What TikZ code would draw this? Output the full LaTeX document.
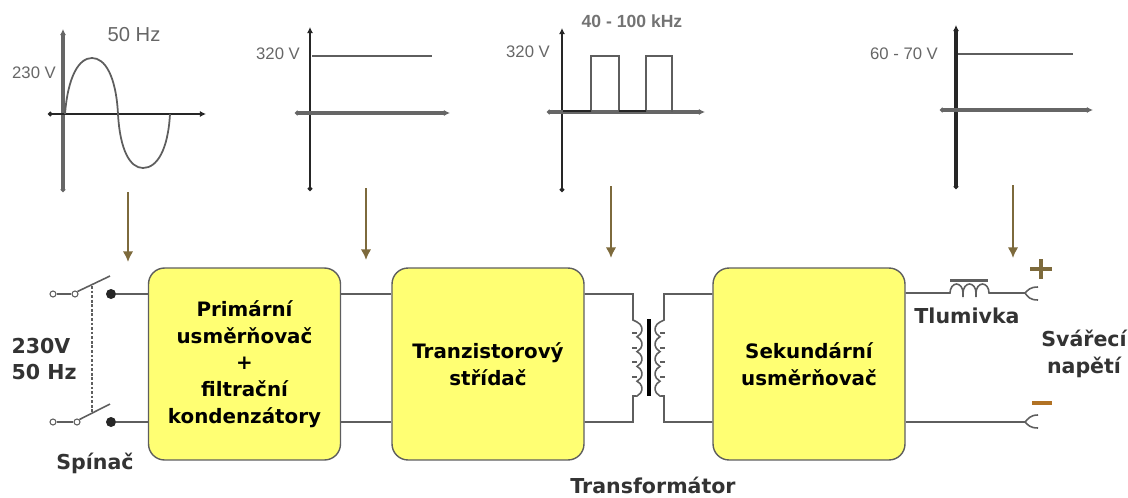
\documentclass[tikz,border=0pt]{standalone}
\usepackage{fontspec}
\setmainfont{DejaVu Sans}
\newfontfamily\plotfont{Liberation Sans}
\usetikzlibrary{arrows.meta}
\definecolor{boxyellow}{HTML}{FFFF73}
\definecolor{wiregray}{HTML}{5E5E5E}
\definecolor{arrowbrown}{HTML}{7D6A3C}
\tikzset{blok/.append style={draw=wiregray,fill=boxyellow,rounded corners=0.32cm,line width=0.8pt,minimum width=3.84cm,minimum height=3.84cm,inner sep=0pt,align=center,font=\bfseries\fontsize{11.3}{15.2}\selectfont}}
\tikzset{popis/.append style={inner sep=0pt,align=center,text=black!80,font=\bfseries\fontsize{11.7}{15}\selectfont}}
\tikzset{hodnota/.append style={inner sep=0pt,text=black!60,font=\plotfont\fontsize{9.5}{11}\selectfont}}
\tikzset{osa/.append style={line width=1.2pt,black!85,{Circle[length=2.5pt]}-{Latex[length=3.5pt,width=3.5pt]}}}
\tikzset{osatl/.append style={osa,line width=2.2pt,black!60}}
\tikzset{graf/.append style={line width=1pt,wiregray}}
\tikzset{vodic/.append style={line width=0.9pt,wiregray}}
\tikzset{sipka/.append style={line width=1.2pt,arrowbrown,-{Latex[length=6pt,width=6pt]}}}
\tikzset{kontakt/.append style={circle,draw=wiregray,fill=white,line width=0.6pt,minimum size=0.12cm,inner sep=0pt}}
\tikzset{bod/.append style={circle,fill=black!85,minimum size=0.2cm,inner sep=0pt}}
\begin{document}
\begin{tikzpicture}[x=0.02cm,y=-0.02cm]
                \useasboundingbox (0,0) rectangle (1128,497);
                % bloky
                \node[blok] (prim) at (244.5,364) {Primární\\usměrňovač\\+\\filtrační\\kondenzátory};
                \node[blok] (stri) at (488,364) {Tranzistorový\\střídač};
                \node[blok] (seku) at (809,364) {Sekundární\\usměrňovač};
                % grafy
                \coordinate (a1) at (63,192); \coordinate (a2) at (63,29);
                \coordinate (a3) at (48,114); \coordinate (a4) at (206,114);
                \draw[osatl] (a1) -- (a2);
                \draw[osa] (a3) -- (a4);
                \draw[graf] (65,114) .. controls (68,76) and (79,58) .. (92,58) .. controls (105,58) and (116,76) .. (118,114) .. controls (120,150) and (130,168) .. (143,168) .. controls (157,168) and (168,150) .. (170,114);
                \node[hodnota] (u1) at (34,73) {230 V};
                \node[hodnota,font=\plotfont\fontsize{11.5}{13}\selectfont] (f1) at (134,35) {50 Hz};
                \coordinate (b1) at (310,191); \coordinate (b2) at (310,27);
                \coordinate (b3) at (295,113); \coordinate (b4) at (450,113);
                \draw[osa] (b1) -- (b2);
                \draw[osatl] (b3) -- (b4);
                \draw[graf] (312,56) -- (432,56);
                \node[hodnota] (u2) at (278,54) {320 V};
                \coordinate (c1) at (562,192); \coordinate (c2) at (562,28);
                \coordinate (c3) at (547,112); \coordinate (c4) at (705,112);
                \draw[osa] (c1) -- (c2);
                \draw[osatl] (c3) -- (c4);
                \draw[graf] (591,112) -- (591,56) -- (619,56) -- (619,112);
                \draw[graf] (646,112) -- (646,56) -- (672,56) -- (672,112);
                \draw[line width=1.6pt,black!85] (563,111) -- (591,111) (619,111) -- (646,111);
                \node[hodnota] (u3) at (528,52) {320 V};
                \node[hodnota,text=black!55,font=\plotfont\bfseries\fontsize{10}{12}\selectfont] (f3) at (632,21) {40 - 100 kHz};
                \coordinate (d1) at (956,189); \coordinate (d2) at (956,25);
                \coordinate (d3) at (940,110); \coordinate (d4) at (1093,110);
                \draw[osatl,black!85] (d1) -- (d2);
                \draw[osatl] (d3) -- (d4);
                \draw[graf] (958,54) -- (1073,54);
                \node[hodnota] (u4) at (904,54) {60 - 70 V};
                % sipky
                \coordinate (s1) at (128,192); \coordinate (e1) at (128,262);
                \coordinate (s2) at (366,188); \coordinate (e2) at (366,260);
                \coordinate (s3) at (611,186); \coordinate (e3) at (611,258);
                \coordinate (s4) at (1013,185); \coordinate (e4) at (1013,258);
                \foreach \i in {1,2,3,4} \draw[sipka] (s\i) -- (e\i);
                % spinac
                \node[kontakt] (k1) at (53,294) {};
                \node[kontakt] (k2) at (75,294) {};
                \node[kontakt] (k3) at (53,422) {};
                \node[kontakt] (k4) at (77,422) {};
                \node[bod] (t1) at (111,294) {};
                \node[bod] (t2) at (111,422) {};
                \coordinate (n1) at (110,276); \coordinate (n2) at (110,404);
                \coordinate (p1) at (92,286); \coordinate (p2) at (92,412);
                \path (k1) edge[vodic] (k2);
                \path (k3) edge[vodic] (k4);
                \path (k2.north east) edge[vodic] (n1);
                \path (k4.north east) edge[vodic] (n2);
                \path (p1) edge[line width=1.6pt,wiregray,densely dotted] (p2);
                \draw[vodic] (t1) -- (prim.west |- t1);
                \draw[vodic] (t2) -- (prim.west |- t2);
                % spoje
                \draw[vodic] (prim.east |- 0,294) -- (stri.west |- 0,294);
                \draw[vodic] (prim.east |- 0,422) -- (stri.west |- 0,422);
                % transformator
                \node[fill=black,minimum width=0.09cm,minimum height=1.54cm,inner sep=0pt] (jadro) at (649,357.5) {};
                \draw[vodic] (stri.east |- 0,294) -| (633,320) -- (637,322) arc(-60:60:10 and 8.55) arc(-60:60:10 and 8.55) arc(-60:60:10 and 8.55) arc(-60:60:10 and 8.55) arc(-60:60:10 and 8.55) -- (633,396) |- (stri.east |- 0,422);
                \draw[vodic] (seku.west |- 0,294) -| (664,320) -- (660,322) arc(240:120:10 and 8.55) arc(240:120:10 and 8.55) arc(240:120:10 and 8.55) arc(240:120:10 and 8.55) arc(240:120:10 and 8.55) -- (664,396) |- (seku.west |- 0,422);
                \foreach \y in {333,348,362,377} {
                    \draw[vodic] (632,\y) -- (637,\y);
                    \draw[vodic] (660,\y) -- (665,\y);
                }
                % tlumivka
                \coordinate (v1) at (1025,293); \coordinate (v2) at (1025,422);
                \node[fill=wiregray,minimum width=0.76cm,minimum height=0.06cm,inner sep=0pt] (jadro2) at (969,280) {};
                \draw[vodic] (seku.east |- v1) -- (950,293) arc(180:360:6.5 and 9) arc(180:360:6.5 and 9) arc(180:360:6.5 and 9) -- (v1);
                \foreach \x in {963,976} \draw[vodic] (\x,289) -- (\x,297);
                \draw[vodic] (seku.east |- v2) -- (v2);
                % svorky
                \draw[vodic] (1038,287) .. controls (1030,287) and (1028,290) .. (v1) .. controls (1028,297) and (1030,300) .. (1038,300);
                \draw[vodic] (1038,415) .. controls (1030,415) and (1028,419) .. (v2) .. controls (1028,425) and (1030,428) .. (1038,428);
                \draw[line width=1.8pt,arrowbrown] (1030,269) -- (1052,269) (1041,259) -- (1041,279);
                \draw[line width=2pt,arrowbrown!60!orange] (1032,403) -- (1052,403);
                % popisy
                \node[popis,align=left] (zdroj) at (44,359) {230V\\50 Hz};
                \node[popis] (spin) at (95,463) {Spínač};
                \node[popis] (tran) at (653,485) {Transformátor};
                \node[popis] (tlum) at (967,316) {Tlumivka};
                \node[popis] (svar) at (1084,354) {Svářecí\\napětí};
\end{tikzpicture}
\end{document}
